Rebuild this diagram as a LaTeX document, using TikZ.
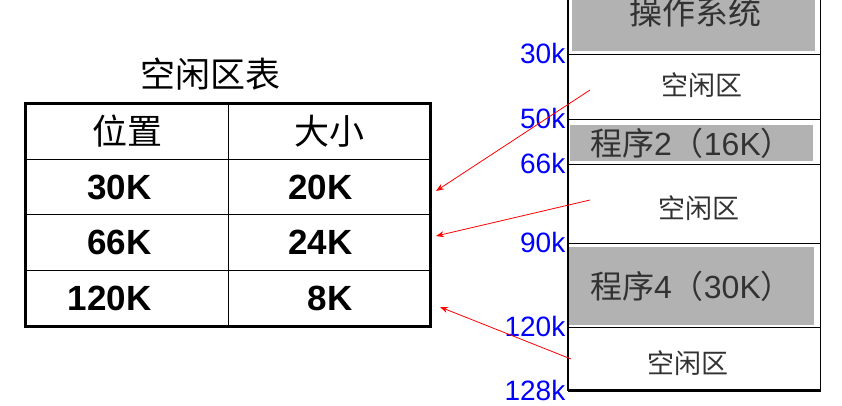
\documentclass[tikz,border=0pt]{standalone}
\usepackage{fontspec}
\setmainfont{Liberation Sans}
\newfontfamily\cjk{Noto Sans CJK SC}
\usepackage{xcolor}
\usetikzlibrary{positioning}
\usetikzlibrary{arrows.meta}
\definecolor{prog-gray}{RGB}{178,178,178}
\definecolor{addr-blue}{RGB}{0,0,255}
\definecolor{mem-text}{RGB}{50,50,50}

\begin{document}
\begin{tikzpicture}
[
x=1pt, y=-1pt,
cell-a/.style={draw, line width=1pt, minimum width=202pt, minimum height=55.5pt, inner sep=0pt, font=\cjk\fontsize{35}{35}\selectfont},
num-a/.style={inner sep=0pt, font=\fontsize{35}{35}\selectfont\bfseries},
part-a/.style={draw, line width=1pt, minimum width=252pt, inner sep=0pt},
prog-a/.style={fill=prog-gray, inner sep=0pt, text=mem-text, font=\fontsize{32}{32}\selectfont},
free-a/.style={inner sep=0pt, text=mem-text, font=\cjk\fontsize{27}{27}\selectfont},
addr-a/.style={inner sep=0pt, text=addr-blue, font=\fontsize{28}{28}\selectfont},
link-a/.style={draw=red, line width=0.8pt, -{Stealth[length=8pt, width=6pt]}}
]
\useasboundingbox (0,0) rectangle (842,405);
% free-area table
\node (title)    [inner sep=0pt, font=\cjk\fontsize{35}{35}\selectfont] at (210,74) {空闲区表};
\node (cell-11)  [cell-a] at (127,131.5) {位置};
\node (cell-12)  [cell-a] at (329,131.5) {大小};
\node (cell-21)  [cell-a] at (127,187)   {};
\node (cell-22)  [cell-a] at (329,187)   {};
\node (cell-31)  [cell-a] at (127,242.5) {};
\node (cell-32)  [cell-a] at (329,242.5) {};
\node (cell-41)  [cell-a] at (127,298)   {};
\node (cell-42)  [cell-a] at (329,298)   {};
\node (num-21)   [num-a, left = 77pt of cell-21.east] {30K};
\node (num-22)   [num-a, left = 78pt of cell-22.east] {20K};
\node (num-31)   [num-a, left = 77pt of cell-31.east] {66K};
\node (num-32)   [num-a, left = 78pt of cell-32.east] {24K};
\node (num-41)   [num-a, left = 77pt of cell-41.east] {120K};
\node (num-42)   [num-a, left = 78pt of cell-42.east] {8K};
\draw [line width=2.5pt] (cell-11.north west) rectangle (cell-42.south east);
% memory
\node (part-os)  [part-a, minimum height=60pt] at (694,24)    {};
\node (part-f1)  [part-a, minimum height=65pt] at (694,86.5)  {};
\node (part-p2)  [part-a, minimum height=45pt] at (694,141.5) {};
\node (part-f2)  [part-a, minimum height=79pt] at (694,203.5) {};
\node (part-p4)  [part-a, minimum height=84pt] at (694,285)   {};
\node (part-f3)  [part-a, minimum height=63pt] at (694,358.5) {};
\draw [line width=1.6pt] (part-os.north west) -- (part-f3.south west);
\draw [line width=1.6pt] (part-os.north east) -- (part-f3.south east);
\draw [line width=2.5pt] (part-f3.south west) -- (part-f3.south east);
\node (prog-os)  [prog-a, minimum width=243pt, minimum height=54pt] at (693.5,24) {};
\node (os-text)  [inner sep=0pt, text=mem-text, font=\cjk\fontsize{33}{33}\selectfont] at (695,12) {操作系统};
\node (prog-2)   [prog-a, minimum width=243pt, minimum height=36pt] at (691.5,143) {{\cjk 程序}2{\cjk （}16K{\cjk ）}};
\node (prog-4)   [prog-a, minimum width=245pt, minimum height=78pt] at (691.5,286) {{\cjk 程序}4{\cjk （}30K{\cjk ）}};
\node (free-1)   [free-a] at (702,85)  {空闲区};
\node (free-2)   [free-a] at (699,208) {空闲区};
\node (free-3)   [free-a] at (688,363) {空闲区};
\node (addr-30)  [addr-a, left = 2pt of part-f1.north west] {30k};
\node (addr-50)  [addr-a, left = 2pt of part-p2.north west] {50k};
\node (addr-66)  [addr-a, left = 2pt of part-f2.north west] {66k};
\node (addr-90)  [addr-a, left = 2pt of part-p4.north west] {90k};
\node (addr-120) [addr-a, left = 2pt of part-f3.north west] {120k};
\node (addr-128) [addr-a, left = 2pt of part-f3.south west] {128k};
% links
\coordinate (src-1) at (590,90);
\coordinate (src-2) at (590,200);
\coordinate (src-3) at (571,359);
\coordinate (tip-1) at (436,191);
\coordinate (tip-2) at (436,236);
\coordinate (tip-3) at (440,307);
\draw [link-a] (src-1) -- (tip-1);
\draw [link-a] (src-2) -- (tip-2);
\draw [link-a] (src-3) -- (tip-3);
\end{tikzpicture}
\end{document}
